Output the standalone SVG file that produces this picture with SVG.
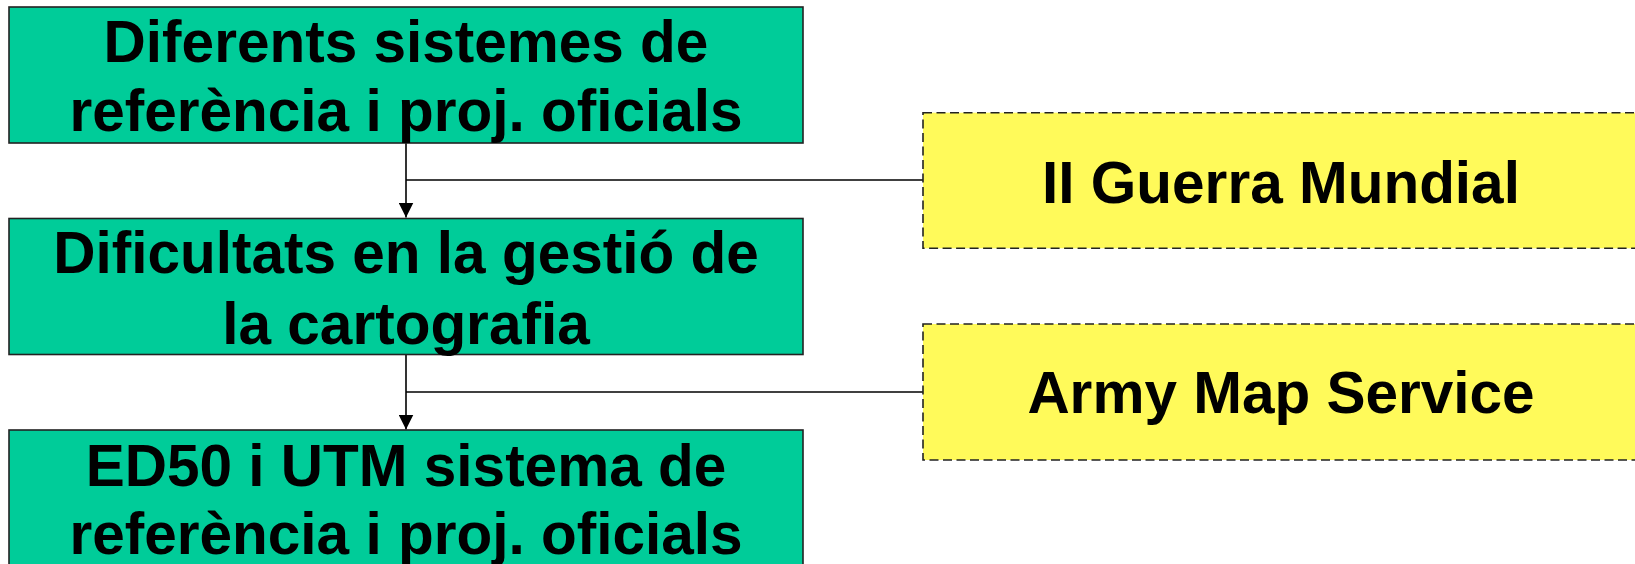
<svg xmlns="http://www.w3.org/2000/svg" width="1635" height="564" viewBox="0 0 1635 564">
  <style>
    .main { fill: #00CC99; stroke: #222222; stroke-width: 1.6; }
    .side { fill: #FFFA5A; stroke: #222222; stroke-width: 1.6; stroke-dasharray: 9 4.5; }
    .lbl { font-family: "Liberation Sans", Arial, sans-serif; font-weight: bold; font-size: 58.5px; fill: #000000; text-anchor: middle; }
    .conn { stroke: #000000; stroke-width: 1.6; fill: none; }
  </style>
  <defs>
    <marker id="arrow" viewBox="0 0 15 15" refX="15" refY="7.5" markerWidth="15" markerHeight="15" markerUnits="userSpaceOnUse" orient="auto">
      <path d="M0,0 L15,7.5 L0,15 Z" fill="#000000"/>
    </marker>
  </defs>
  <rect width="1635" height="564" fill="#FFFFFF"/>

  <g id="connectors">
    <line class="conn" x1="406" y1="143" x2="406" y2="217.5" marker-end="url(#arrow)"/>
    <line class="conn" x1="406" y1="180" x2="923" y2="180"/>
    <line class="conn" x1="406" y1="354.5" x2="406" y2="429.5" marker-end="url(#arrow)"/>
    <line class="conn" x1="406" y1="392" x2="923" y2="392"/>
  </g>

  <g id="node-diferents">
    <rect class="main" x="9" y="7" width="794" height="136"/>
    <text class="lbl" x="406" y="61.7">Diferents sistemes de</text>
    <text class="lbl" x="406" y="131">referència i proj. oficials</text>
  </g>

  <g id="node-dificultats">
    <rect class="main" x="9" y="218.5" width="794" height="136"/>
    <text class="lbl" x="406" y="273.3">Dificultats en la gestió de</text>
    <text class="lbl" x="406" y="344">la cartografia</text>
  </g>

  <g id="node-ed50">
    <rect class="main" x="9" y="430" width="794" height="136"/>
    <text class="lbl" x="406" y="485.7">ED50 i UTM sistema de</text>
    <text class="lbl" x="406" y="554">referència i proj. oficials</text>
  </g>

  <g id="node-guerra">
    <rect class="side" x="923" y="112.7" width="716" height="135.6"/>
    <text class="lbl" x="1281" y="203.3">II Guerra Mundial</text>
  </g>

  <g id="node-ams">
    <rect class="side" x="923" y="324" width="716" height="136"/>
    <text class="lbl" x="1281" y="413.3">Army Map Service</text>
  </g>
</svg>
